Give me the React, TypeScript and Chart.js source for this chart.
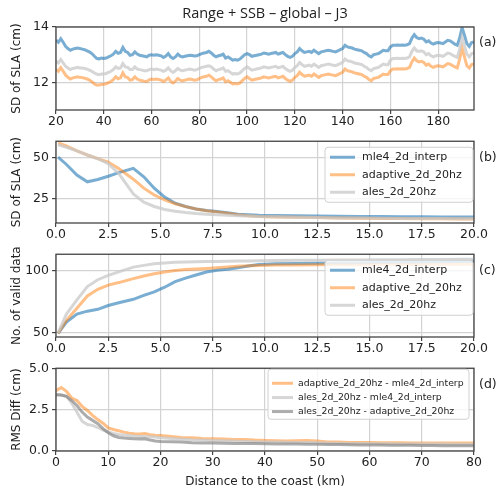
import React, { useEffect, useRef } from 'react';
import { Chart, registerables } from 'chart.js';
Chart.register(...registerables);

// ---------------- DATA ----------------
const TITLE = 'Range + SSB – global – J3';

const distA = [20,21,22,23,24,25,26,27,28,29,30,31,32,33,34,35,36,37,38,39,40,41,42,43,44,45,46,47,48,49,50,51,52,53,54,55,56,57,58,59,60,61,62,63,64,65,66,67,68,69,70,71,72,73,74,75,76,77,78,79,80,81,82,83,84,85,86,87,88,89,90,91,92,93,94,95,96,97,98,99,100,101,102,103,104,105,106,107,108,109,110,111,112,113,114,115,116,117,118,119,120,121,122,123,124,125,126,127,128,129,130,131,132,133,134,135,136,137,138,139,140,141,142,143,144,145,146,147,148,149,150,151,152,153,154,155,156,157,158,159,160,161,162,163,164,165,166,167,168,169,170,171,172,173,174,175,176,177,178,179,180,181,182,183,184,185,186,187,188,189,190,191,192,193,194,195];

const sdMle4 = [13.52,13.45,13.58,13.45,13.3,13.22,13.16,13.2,13.22,13.24,13.22,13.2,13.18,13.14,13.1,13.04,12.95,12.87,12.85,12.88,12.86,12.88,12.92,12.96,13.02,13.12,13.05,13.08,13.26,13.12,13.08,12.98,13.0,13.1,13.02,12.98,12.96,12.94,12.92,12.98,13.0,12.98,13.0,12.98,12.96,12.9,12.95,13.04,12.92,12.86,12.92,13.02,12.95,12.92,12.94,12.96,12.98,12.97,12.95,12.96,13.0,13.04,13.06,13.08,13.12,13.06,12.98,12.92,12.96,12.98,13.02,12.88,12.92,12.86,12.8,12.82,12.8,12.84,12.92,13.0,13.04,13.0,12.94,12.96,12.98,13.0,13.02,13.06,13.04,13.02,13.04,13.06,13.08,13.02,13.05,13.08,13.0,12.94,12.9,12.94,13.04,13.1,13.22,13.14,13.08,13.1,13.12,13.08,13.16,13.1,13.04,13.1,13.12,13.14,13.16,13.14,13.12,13.1,13.14,13.18,13.22,13.34,13.28,13.26,13.24,13.2,13.18,13.16,13.14,13.08,13.04,12.96,12.92,13.0,13.02,13.04,13.1,13.16,13.14,13.14,13.28,13.34,13.34,13.35,13.34,13.35,13.34,13.36,13.4,13.6,13.72,13.62,13.58,13.6,13.56,13.46,13.5,13.42,13.38,13.42,13.44,13.42,13.4,13.46,13.52,13.5,13.44,13.38,13.34,13.6,13.98,13.7,13.4,13.3,13.44,13.46];

const sdAles = [12.76,12.7,12.82,12.7,12.58,12.52,12.46,12.5,12.52,12.54,12.52,12.52,12.5,12.48,12.44,12.4,12.34,12.3,12.28,12.3,12.3,12.32,12.36,12.4,12.46,12.56,12.5,12.52,12.68,12.56,12.54,12.46,12.46,12.56,12.48,12.46,12.44,12.42,12.42,12.46,12.48,12.46,12.48,12.46,12.44,12.4,12.44,12.52,12.42,12.36,12.42,12.5,12.44,12.42,12.44,12.46,12.48,12.46,12.44,12.46,12.5,12.54,12.56,12.58,12.6,12.56,12.48,12.42,12.46,12.48,12.52,12.4,12.42,12.36,12.3,12.32,12.3,12.34,12.42,12.5,12.56,12.5,12.44,12.46,12.48,12.5,12.52,12.56,12.54,12.52,12.54,12.56,12.58,12.52,12.55,12.58,12.5,12.44,12.4,12.44,12.54,12.6,12.72,12.64,12.58,12.6,12.62,12.58,12.66,12.6,12.54,12.6,12.62,12.64,12.66,12.64,12.62,12.6,12.64,12.68,12.72,12.84,12.78,12.76,12.74,12.7,12.68,12.66,12.64,12.58,12.54,12.46,12.42,12.5,12.52,12.54,12.6,12.66,12.64,12.64,12.8,12.86,12.86,12.87,12.86,12.87,12.86,12.88,12.92,13.12,13.24,13.14,13.12,13.14,13.1,13.0,13.04,12.96,12.92,12.96,12.98,12.96,12.94,13.0,13.06,13.04,12.98,12.94,12.9,13.2,13.62,13.32,13.02,12.92,13.04,13.06];

const sdAdaptive = [12.47,12.4,12.53,12.4,12.26,12.18,12.12,12.16,12.18,12.2,12.18,12.17,12.15,12.12,12.08,12.02,11.95,11.9,11.9,11.92,11.93,11.95,11.99,12.03,12.1,12.2,12.13,12.16,12.34,12.2,12.17,12.08,12.1,12.2,12.12,12.08,12.06,12.04,12.03,12.09,12.12,12.1,12.12,12.1,12.08,12.03,12.08,12.16,12.04,11.98,12.04,12.14,12.08,12.05,12.08,12.1,12.12,12.1,12.08,12.09,12.14,12.18,12.2,12.22,12.26,12.2,12.12,12.06,12.1,12.12,12.16,12.02,12.06,12.0,11.94,11.96,11.94,11.98,12.06,12.14,12.2,12.14,12.08,12.1,12.12,12.14,12.16,12.2,12.18,12.16,12.18,12.2,12.22,12.16,12.19,12.22,12.14,12.08,12.04,12.08,12.18,12.24,12.36,12.28,12.22,12.24,12.26,12.22,12.3,12.24,12.18,12.24,12.26,12.28,12.3,12.28,12.26,12.24,12.28,12.32,12.36,12.48,12.42,12.4,12.38,12.34,12.32,12.3,12.28,12.22,12.18,12.1,12.06,12.14,12.16,12.18,12.24,12.3,12.28,12.28,12.42,12.48,12.48,12.49,12.48,12.49,12.48,12.5,12.54,12.74,12.88,12.78,12.74,12.76,12.72,12.62,12.66,12.58,12.54,12.58,12.6,12.58,12.56,12.62,12.68,12.66,12.6,12.56,12.52,12.84,13.24,12.92,12.6,12.52,12.64,12.66];

const distBC = [0.1,0.5,1.0,1.5,2.0,2.5,3.0,3.7,4.2,4.7,5.2,5.7,6.2,6.7,7.2,7.7,8.2,8.7,9.2,9.7,10.5,11.5,12.5,13.5,14.5,15.5,16.5,17.5,18.5,19.5,20.0];

const sdNearMle4 = [50.5,46,39.5,35.4,36.8,38.8,41,43.6,38.5,31.5,26,22.3,20.3,18.8,17.8,17.2,16.5,15.6,15.3,15.0,14.8,14.6,14.5,14.4,14.2,14.1,14.0,14.0,13.9,13.9,13.9];
const sdNearAdaptive = [59.2,57.3,54.3,51.8,49.6,47.4,43.5,37,31.5,27.3,24.3,22,20.2,18.8,17.7,17,16.2,15.2,14.6,14.2,13.9,13.7,13.5,13.3,13.1,13.0,12.9,12.8,12.8,12.7,12.7];
const sdNearAles = [58,56.5,54.3,51.8,49.5,46.5,40.5,28,23,20.3,18.5,17.4,16.6,16,15.6,15.3,15,14.7,14.5,14.2,14,13.7,13.5,13.3,13.2,13.1,13.0,12.9,12.9,12.8,12.8];

const validMle4 = [49.5,58.5,65,67.3,68.8,71.8,74,76.8,80,82.8,86.5,91,93.8,96.3,98.7,100,100.8,102,103.5,104.6,105.2,105.4,105.6,105.8,106,106.2,106.4,106.6,106.8,107,107.1];
const validAdaptive = [49.5,60,69.7,79.5,84.8,88.2,90.2,93.4,95.5,97.2,98.6,99.8,100.6,101.1,101.5,102,102.6,103.2,103.6,103.9,104.2,104.3,104.4,104.5,104.5,104.6,104.6,104.7,104.7,104.8,104.8];
const validAles = [50,65,76.3,87,92.5,96,98.8,102.6,104,105.2,105.9,106.4,106.7,106.9,107,107.1,107.3,107.4,107.5,107.6,107.8,108,108.1,108.2,108.3,108.4,108.5,108.6,108.7,108.8,108.9];

const distD = [0,1,2,3,4,5,6,7,8,9,10,11,12,13,14,15,16,17,18,19,20,22,24,26,28,30,32,34,36,38,40,42,44,46,48,50,52,54,56,58,60,62,64,66,68,70,72,74,76,78,80];
const rmsAdaptiveMle4 = [3.65,3.84,3.6,3.2,3.05,2.7,2.45,2.15,1.9,1.68,1.4,1.3,1.22,1.14,1.08,1.04,1.03,1.05,0.98,0.95,0.94,0.88,0.82,0.8,0.76,0.74,0.72,0.7,0.7,0.66,0.64,0.62,0.6,0.62,0.64,0.6,0.55,0.54,0.52,0.52,0.51,0.5,0.5,0.5,0.49,0.49,0.48,0.48,0.48,0.48,0.48];
const rmsAlesMle4 = [3.4,3.38,3.3,2.9,2.35,1.8,1.6,1.55,1.42,1.26,1.15,1.06,1.0,0.96,0.93,0.9,0.88,0.88,0.86,0.84,0.8,0.76,0.72,0.68,0.66,0.64,0.62,0.6,0.58,0.56,0.55,0.54,0.53,0.52,0.52,0.5,0.48,0.47,0.46,0.45,0.45,0.44,0.44,0.43,0.43,0.42,0.42,0.42,0.41,0.41,0.41];
const rmsAlesAdaptive = [3.4,3.38,3.3,3.05,2.75,2.35,2.05,1.85,1.65,1.35,1.1,0.92,0.82,0.78,0.76,0.74,0.72,0.74,0.66,0.6,0.58,0.56,0.54,0.5,0.49,0.48,0.47,0.46,0.46,0.45,0.44,0.43,0.42,0.42,0.41,0.41,0.4,0.39,0.38,0.37,0.36,0.36,0.35,0.34,0.34,0.33,0.33,0.32,0.32,0.32,0.32];

const ticksXA = [20,40,60,80,100,120,140,160,180];
const ticksYA = [12,14];
const ticksXBC = [0,2.5,5,7.5,10,12.5,15,17.5,20];
const ticksYB = [25,50];
const ticksYC = [50,100];
const ticksXD = [0,10,20,30,40,50,60,70,80];
const ticksYD = [0,2.5,5];

const LABEL_MLE4 = 'mle4_2d_interp';
const LABEL_ADAPTIVE = 'adaptive_2d_20hz';
const LABEL_ALES = 'ales_2d_20hz';
const LABEL_D1 = 'adaptive_2d_20hz - mle4_2d_interp';
const LABEL_D2 = 'ales_2d_20hz - mle4_2d_interp';
const LABEL_D3 = 'ales_2d_20hz - adaptive_2d_20hz';

// ---------------- STYLE ----------------
const BLUE = 'rgba(31,119,180,0.6)';
const ORANGE = 'rgba(255,127,14,0.5)';
const LIGHT = 'rgba(200,200,200,0.75)';
const DARK = 'rgba(128,128,128,0.65)';
const FONT = "'DejaVu Sans', sans-serif";
const INK = '#222';

type Series = { label: string; x: number[]; y: number[]; color: string };
type Legend = { dx: number; dy: number; w: number; h: number; rows: number[]; l0: number; l1: number; tx: number; size: number };
type Cfg = {
  top: number; height: number; padTop: number; xAxisH: number;
  xMin: number; xMax: number; yMin: number; yMax: number;
  xTicks: number[]; yTicks: number[]; xDec: number; yDec: number;
  yTitle: string; xTitle?: string; letter: string; title?: string;
  series: Series[]; legend?: Legend;
};

const panels: Cfg[] = [
  {
    top: 0, height: 132, padTop: 27, xAxisH: 22,
    xMin: 20, xMax: 195, yMin: 11, yMax: 14,
    xTicks: ticksXA, yTicks: ticksYA, xDec: 0, yDec: 0,
    yTitle: 'SD of SLA (cm)', letter: '(a)', title: TITLE,
    series: [
      { label: LABEL_MLE4, x: distA, y: sdMle4, color: BLUE },
      { label: LABEL_ADAPTIVE, x: distA, y: sdAdaptive, color: ORANGE },
      { label: LABEL_ALES, x: distA, y: sdAles, color: LIGHT },
    ],
  },
  {
    top: 132, height: 113, padTop: 8, xAxisH: 22,
    xMin: 0, xMax: 20, yMin: 10.2, yMax: 60.2,
    xTicks: ticksXBC, yTicks: ticksYB, xDec: 1, yDec: 0,
    yTitle: 'SD of SLA (cm)', letter: '(b)',
    series: [
      { label: LABEL_MLE4, x: distBC, y: sdNearMle4, color: BLUE },
      { label: LABEL_ADAPTIVE, x: distBC, y: sdNearAdaptive, color: ORANGE },
      { label: LABEL_ALES, x: distBC, y: sdNearAles, color: LIGHT },
    ],
    legend: { dx: -149, dy: 6, w: 148, h: 55, rows: [10, 27.5, 45], l0: 5, l1: 30, tx: 37, size: 11 },
  },
  {
    top: 245, height: 114, padTop: 8, xAxisH: 22,
    xMin: 0, xMax: 20, yMin: 46.6, yMax: 112.9,
    xTicks: ticksXBC, yTicks: ticksYC, xDec: 1, yDec: 0,
    yTitle: 'No. of valid data', letter: '(c)',
    series: [
      { label: LABEL_MLE4, x: distBC, y: validMle4, color: BLUE },
      { label: LABEL_ADAPTIVE, x: distBC, y: validAdaptive, color: ORANGE },
      { label: LABEL_ALES, x: distBC, y: validAles, color: LIGHT },
    ],
    legend: { dx: -149, dy: 6, w: 148, h: 55, rows: [10, 27.5, 45], l0: 5, l1: 30, tx: 37, size: 11 },
  },
  {
    top: 359, height: 134, padTop: 7, xAxisH: 42,
    xMin: 0, xMax: 80, yMin: 0, yMax: 5,
    xTicks: ticksXD, yTicks: ticksYD, xDec: 0, yDec: 1,
    yTitle: 'RMS Diff (cm)', xTitle: 'Distance to the coast (km)', letter: '(d)',
    series: [
      { label: LABEL_D1, x: distD, y: rmsAdaptiveMle4, color: ORANGE },
      { label: LABEL_D2, x: distD, y: rmsAlesMle4, color: LIGHT },
      { label: LABEL_D3, x: distD, y: rmsAlesAdaptive, color: DARK },
    ],
    legend: { dx: -206, dy: 1, w: 201, h: 50, rows: [14, 28.3, 42.3], l0: 4, l1: 25, tx: 30, size: 9.3 },
  },
];

function decor(cfg: Cfg) {
  return {
    id: 'decor' + cfg.letter,
    afterDatasetsDraw(chart: any) {
      const { ctx, chartArea: a } = chart;
      ctx.save();
      ctx.strokeStyle = '#444';
      ctx.lineWidth = 1.3;
      ctx.strokeRect(a.left, a.top, a.right - a.left, a.bottom - a.top);
      ctx.fillStyle = INK;
      ctx.font = `12.5px ${FONT}`;
      ctx.textBaseline = 'middle';
      ctx.textAlign = 'left';
      ctx.fillText(cfg.letter, a.right + 5, a.top + 16);
      if (cfg.title) {
        ctx.font = `14.5px 'Open Sans', sans-serif`;
        ctx.textAlign = 'center';
        ctx.fillText(cfg.title, (a.left + a.right) / 2, 13.5);
      }
      const lg = cfg.legend;
      if (lg) {
        const bx = a.right + lg.dx;
        const by = a.top + lg.dy;
        ctx.beginPath();
        const r = 3;
        ctx.moveTo(bx + r, by);
        ctx.lineTo(bx + lg.w - r, by);
        ctx.arcTo(bx + lg.w, by, bx + lg.w, by + r, r);
        ctx.lineTo(bx + lg.w, by + lg.h - r);
        ctx.arcTo(bx + lg.w, by + lg.h, bx + lg.w - r, by + lg.h, r);
        ctx.lineTo(bx + r, by + lg.h);
        ctx.arcTo(bx, by + lg.h, bx, by + lg.h - r, r);
        ctx.lineTo(bx, by + r);
        ctx.arcTo(bx, by, bx + r, by, r);
        ctx.closePath();
        ctx.fillStyle = 'rgba(255,255,255,0.8)';
        ctx.fill();
        ctx.strokeStyle = '#d0d0d0';
        ctx.lineWidth = 1;
        ctx.stroke();
        ctx.font = `${lg.size}px ${FONT}`;
        ctx.textAlign = 'left';
        ctx.textBaseline = 'middle';
        cfg.series.forEach((s, i) => {
          const yy = by + lg.rows[i];
          ctx.strokeStyle = s.color;
          ctx.lineWidth = 3;
          ctx.beginPath();
          ctx.moveTo(bx + lg.l0, yy);
          ctx.lineTo(bx + lg.l1, yy);
          ctx.stroke();
          ctx.fillStyle = INK;
          ctx.fillText(s.label, bx + lg.tx, yy);
        });
      }
      ctx.restore();
    },
  };
}

function Panel({ cfg }: { cfg: Cfg }) {
  const ref = useRef<HTMLCanvasElement | null>(null);
  useEffect(() => {
    if (!ref.current) return;
    const n = cfg.series.length;
    const chart = new Chart(ref.current, {
      type: 'line',
      data: {
        datasets: cfg.series.map((s, i) => ({
          label: s.label,
          data: s.x.map((xv, k) => ({ x: xv, y: s.y[k] })),
          borderColor: s.color,
          backgroundColor: s.color,
          borderWidth: 3,
          pointRadius: 0,
          tension: 0,
          fill: false,
          order: n - i,
        })),
      },
      options: {
        responsive: false,
        animation: false,
        devicePixelRatio: 1,
        layout: { padding: { left: 0, right: 26, top: cfg.padTop, bottom: 0 } },
        plugins: { legend: { display: false }, tooltip: { enabled: false }, title: { display: false } },
        scales: {
          x: {
            type: 'linear',
            min: cfg.xMin,
            max: cfg.xMax,
            afterFit: (s: any) => { s.height = cfg.xAxisH; },
            afterBuildTicks: (s: any) => { s.ticks = cfg.xTicks.map((v) => ({ value: v })); },
            ticks: {
              autoSkip: false,
              maxRotation: 0,
              padding: 1,
              color: INK,
              font: { family: FONT, size: 12.5, lineHeight: 1 },
              callback: (v: any) => Number(v).toFixed(cfg.xDec),
            },
            grid: { color: '#d3d3d3', lineWidth: 1.2, tickColor: '#444', tickLength: 4, drawTicks: true },
            border: { display: false },
            title: cfg.xTitle
              ? { display: true, text: cfg.xTitle, color: INK, font: { family: FONT, size: 12 }, padding: { top: 0, bottom: 4 } }
              : { display: false },
          },
          y: {
            type: 'linear',
            min: cfg.yMin,
            max: cfg.yMax,
            afterFit: (s: any) => { s.width = 56; },
            afterBuildTicks: (s: any) => { s.ticks = cfg.yTicks.map((v) => ({ value: v })); },
            ticks: {
              autoSkip: false,
              padding: 3,
              color: INK,
              font: { family: FONT, size: 12.5, lineHeight: 1 },
              callback: (v: any) => Number(v).toFixed(cfg.yDec),
            },
            grid: { color: '#d3d3d3', lineWidth: 1.2, tickColor: '#444', tickLength: 4, drawTicks: true },
            border: { display: false },
            title: { display: true, text: cfg.yTitle, color: INK, font: { family: FONT, size: 12 }, padding: { top: 10, bottom: 0 } },
          },
        },
      },
      plugins: [decor(cfg)],
    } as any);
    return () => chart.destroy();
  }, [cfg]);
  return (
    <canvas
      ref={ref}
      width={500}
      height={cfg.height}
      style={{ position: 'absolute', left: 0, top: cfg.top, width: 500, height: cfg.height }}
    />
  );
}

export default function App() {
  return (
    <div style={{ position: 'absolute', left: 0, top: 0, width: 500, height: 493, background: '#fff', overflow: 'hidden' }}>
      {panels.map((p) => (
        <Panel key={p.letter} cfg={p} />
      ))}
    </div>
  );
}
